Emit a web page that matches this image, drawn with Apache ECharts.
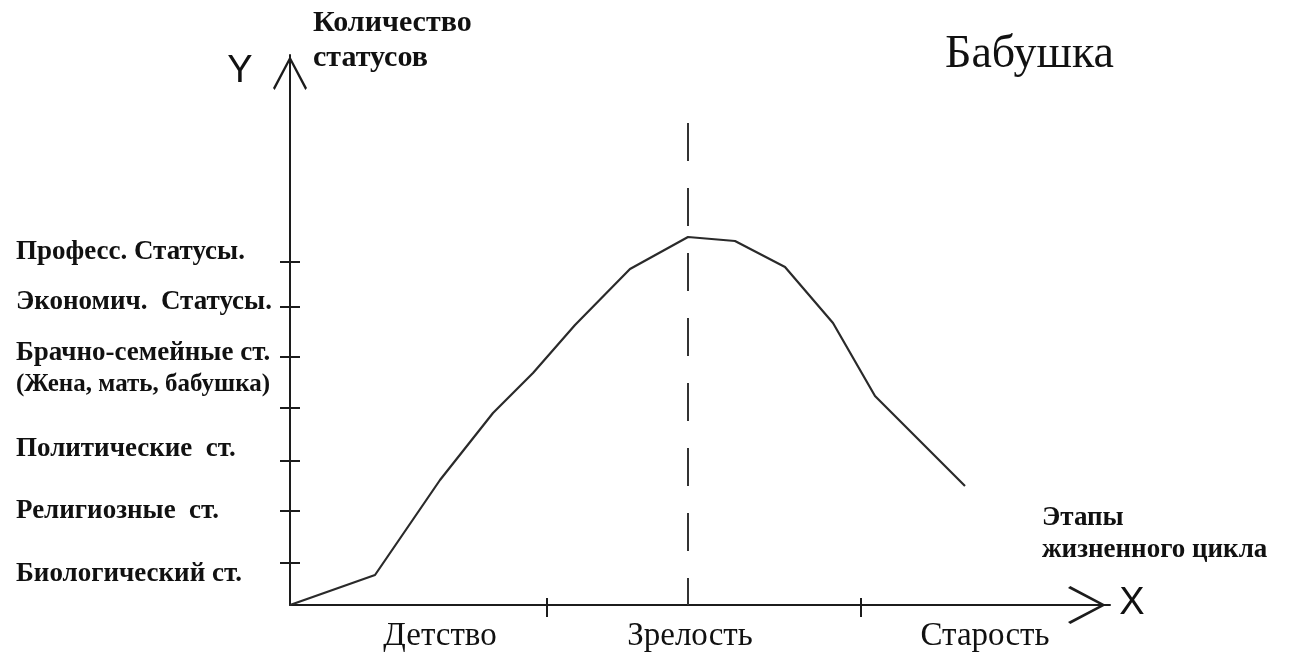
<!DOCTYPE html>
<html>
<head>
<meta charset="utf-8">
<script src="https://cdn.jsdelivr.net/npm/echarts@6/dist/echarts.min.js"></script>
<style>
html,body{margin:0;padding:0;background:#fff;}
#chart{width:1291px;height:655px;}
</style>
</head>
<body>
<div id="chart"></div>
<script>
// ---- data ----
const curveX = [0, 1.7, 3.0, 4.06, 4.86, 5.7, 6.8, 7.96, 8.9, 9.9, 10.86, 11.7, 13.5];
const curveY = [0, 0.6, 2.5, 3.84, 4.64, 5.6, 6.72, 7.36, 7.28, 6.76, 5.64, 4.18, 2.38];

const yLabels = ['Биологический ст.', 'Религиозные  ст.', 'Политические  ст.', 'Брачно-семейные ст.\n(Жена, мать, бабушка)', 'Экономич.  Статусы.', 'Професс. Статусы.'];
const yLabelValues = [0.62, 1.88, 3.12, 4.72, 6.06, 7.06];
const yTickValues = [0.84, 1.88, 2.88, 3.94, 4.96, 5.96, 6.86];

const xLabels = ['Детство', 'Зрелость', 'Старость'];
const xLabelValues = [3.0, 8.0, 13.9];
const xTickValues = [5.14, 11.42];

const maturityX = 7.96;
const maturityTop = 9.64;

const titleText = 'Бабушка';
const yName = 'Количество\nстатусов';
const xName = 'Этапы\nжизненного цикла';

// ---- chart ----
const chart = echarts.init(document.getElementById('chart'), null, {renderer: 'canvas'});
const ink = '#1c1c1c';
const arrowPath = 'path://M50 0 L100 94 L95 100 L50 14 L5 100 L0 94 Z';

const yLabelMap = {};
yLabelValues.forEach((v, i) => { yLabelMap[v] = yLabels[i]; });
const xLabelMap = {};
xLabelValues.forEach((v, i) => { xLabelMap[v] = xLabels[i]; });

const option = {
  animation: false,
  backgroundColor: '#ffffff',
  grid: {left: 290, top: 55, right: 181, bottom: 50, containLabel: false},
  xAxis: [{
    type: 'value', min: 0, max: 16.4,
    splitLine: {show: false},
    axisLine: {show: true, onZero: false, lineStyle: {color: ink, width: 2},
      symbol: ['none', arrowPath], symbolSize: [38, 46], symbolOffset: [0, -23]},
    axisTick: {show: true, customValues: xTickValues, length: 12, lineStyle: {color: ink, width: 2}},
    axisLabel: {show: true, customValues: xLabelValues, margin: 15,
      formatter: v => xLabelMap[v] || '',
      fontFamily: 'Liberation Serif', fontSize: 33, color: '#111'}
  }, {
    type: 'value', min: 0, max: 16.4, position: 'bottom', offset: 0,
    splitLine: {show: false},
    axisLine: {show: false},
    axisTick: {show: true, inside: true, customValues: xTickValues, length: 7, lineStyle: {color: ink, width: 2}},
    axisLabel: {show: false}
  }],
  yAxis: [{
    type: 'value', min: 0, max: 11,
    splitLine: {show: false},
    axisLine: {show: true, onZero: false, lineStyle: {color: ink, width: 2},
      symbol: ['none', arrowPath], symbolSize: [34, 36], symbolOffset: [0, -18]},
    axisTick: {show: true, customValues: yTickValues, length: 10, lineStyle: {color: ink, width: 2}},
    axisLabel: {show: true, customValues: yLabelValues, margin: 274, align: 'left',
      formatter: v => {
        const t = yLabelMap[v] || '';
        return t.split('\n').map((l, i) => '{' + (i ? 'b' : 'a') + '|' + l + '}').join('\n');
      },
      rich: {
        a: {fontFamily: 'Liberation Serif', fontWeight: 'bold', fontSize: 27, lineHeight: 32, color: '#111'},
        b: {fontFamily: 'Liberation Serif', fontWeight: 'bold', fontSize: 25, lineHeight: 32, color: '#111'}
      },
      fontFamily: 'Liberation Serif', fontWeight: 'bold', fontSize: 27, lineHeight: 32, color: '#111'}
  }, {
    type: 'value', min: 0, max: 11, position: 'left', offset: 0,
    splitLine: {show: false},
    axisLine: {show: false},
    axisTick: {show: true, inside: true, customValues: yTickValues, length: 10, lineStyle: {color: ink, width: 2}},
    axisLabel: {show: false}
  }],
  series: [{
    type: 'line',
    xAxisIndex: 0, yAxisIndex: 0,
    data: curveX.map((x, i) => [x, curveY[i]]),
    symbol: 'none',
    lineStyle: {color: '#2a2a2a', width: 2.2},
    markLine: {
      silent: true,
      symbol: ['none', 'none'],
      label: {show: false},
      lineStyle: {color: '#333', width: 2, type: [38, 27]},
      data: [[{coord: [maturityX, maturityTop]}, {coord: [maturityX, 0]}]]
    }
  }],
  graphic: [
    {type: 'text', x: 240, y: 72, style: {text: 'Y', fontFamily: 'Liberation Sans', fontSize: 38, fill: '#111', align: 'center', verticalAlign: 'middle'}},
    {type: 'text', x: 1132, y: 604, style: {text: 'X', fontFamily: 'Liberation Sans', fontSize: 38, fill: '#111', align: 'center', verticalAlign: 'middle'}},
    {type: 'text', x: 313, y: 6, style: {text: yName, fontFamily: 'Liberation Serif', fontWeight: 'bold', fontSize: 30, lineHeight: 35, fill: '#111', align: 'left', verticalAlign: 'top'}},
    {type: 'text', x: 945, y: 32, style: {text: titleText, fontFamily: 'Liberation Serif', fontSize: 46, fill: '#111', align: 'left', verticalAlign: 'top'}},
    {type: 'text', x: 1042, y: 502, style: {text: xName, fontFamily: 'Liberation Serif', fontWeight: 'bold', fontSize: 27, lineHeight: 32, fill: '#111', align: 'left', verticalAlign: 'top'}}
  ]
};
chart.setOption(option);
</script>
</body>
</html>
